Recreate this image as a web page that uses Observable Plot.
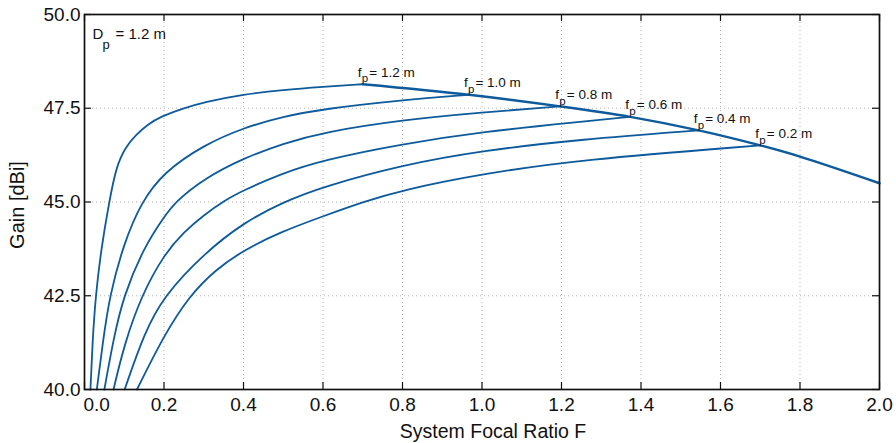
<!DOCTYPE html>
<html>
<head>
<meta charset="utf-8">
<script src="https://cdn.jsdelivr.net/npm/d3@7"></script>
<script src="https://cdn.jsdelivr.net/npm/@observablehq/plot@0.6"></script>
<style>
  html, body { margin: 0; padding: 0; background: #fff; }
  svg { display: block; }
</style>
</head>
<body>
<script>
// Primary focal lengths of the six curves (m)
const focalLengths = ["1.2", "1.0", "0.8", "0.6", "0.4", "0.2"];

// Rising branch of each curve: [system focal ratio F, gain dBi], ending at its optimum
const riseFp12 = [[0.015, 40.0], [0.020, 41.25], [0.028, 42.5], [0.042, 43.75], [0.062, 45.0],
  [0.080, 45.95], [0.103, 46.46], [0.130, 46.80], [0.160, 47.07], [0.19, 47.27], [0.25, 47.5],
  [0.30, 47.66], [0.40, 47.87], [0.50, 47.99], [0.60, 48.07], [0.70, 48.14]];
const riseFp10 = [[0.031, 40.0], [0.046, 41.25], [0.063, 42.5], [0.099, 43.9], [0.143, 45.0],
  [0.20, 45.8], [0.30, 46.52], [0.40, 46.98], [0.50, 47.28], [0.60, 47.48], [0.80, 47.72], [0.967, 47.86]];
const riseFp08 = [[0.050, 40.0], [0.072, 41.3], [0.098, 42.5], [0.15, 43.8], [0.20, 44.6],
  [0.228, 45.0], [0.30, 45.62], [0.40, 46.17], [0.50, 46.56], [0.60, 46.86], [0.80, 47.19],
  [1.00, 47.39], [1.197, 47.55]];
const riseFp06 = [[0.073, 40.0], [0.10, 41.2], [0.143, 42.5], [0.20, 43.6], [0.25, 44.2],
  [0.30, 44.65], [0.352, 45.04], [0.40, 45.31], [0.493, 45.75], [0.60, 46.12], [0.80, 46.55],
  [1.00, 46.87], [1.248, 47.14], [1.373, 47.27]];
const riseFp04 = [[0.101, 40.0], [0.15, 41.5], [0.20, 42.5], [0.30, 43.62], [0.40, 44.45],
  [0.50, 45.0], [0.60, 45.41], [0.80, 45.99], [1.00, 46.37], [1.248, 46.67], [1.545, 46.91]];
const riseFp02 = [[0.132, 40.0], [0.20, 41.45], [0.264, 42.5], [0.33, 43.2], [0.40, 43.71],
  [0.493, 44.2], [0.60, 44.62], [0.70, 45.0], [0.80, 45.32], [1.00, 45.75], [1.248, 46.13],
  [1.70, 46.51]];

// Common envelope through the optima, down to F = 2
const envelope = [[0.70, 48.14], [0.967, 47.86], [1.197, 47.55], [1.373, 47.27], [1.545, 46.91],
  [1.70, 46.51], [1.80, 46.21], [2.00, 45.5]];

// Axis ticks and grid
const xTicks = [0.0, 0.2, 0.4, 0.6, 0.8, 1.0, 1.2, 1.4, 1.6, 1.8, 2.0];
const yTicks = [40.0, 42.5, 45.0, 47.5, 50.0];
const xGrid = [0.2, 0.4, 0.6, 0.8, 1.0, 1.2, 1.4, 1.6, 1.8];
const yGrid = [42.5, 45.0, 47.5];

const xTitle = "System Focal Ratio F";
const yTitle = "Gain [dBi]";

const lineColor = "#0d5a9c";
const gridColor = "#b4b4b4";
const ink = "#111";

const rises = [riseFp12, riseFp10, riseFp08, riseFp06, riseFp04, riseFp02];
const riseRows = rises.flatMap((pts, i) => pts.map(([F, G]) => ({fp: focalLengths[i], F, G})));
const envRows = envelope.map(([F, G]) => ({F, G}));
const optima = rises.map((pts, i) => ({fp: focalLengths[i], F: pts[pts.length - 1][0], G: pts[pts.length - 1][1]}));

const fontFamily = "'Liberation Sans', Arial, Helvetica, sans-serif";

const chart = Plot.plot({
  width: 896,
  height: 443,
  marginLeft: 84,
  marginRight: 17,
  marginTop: 14,
  marginBottom: 54,
  x: {domain: [0, 2], axis: null},
  y: {domain: [40, 50], axis: null},
  style: {fontFamily, fontSize: "19px", color: ink, background: "#fff", overflow: "visible"},
  marks: [
    // dotted grid
    Plot.ruleX(xGrid, {x: d => d, stroke: gridColor, strokeWidth: 1, strokeDasharray: "1,3"}),
    Plot.ruleY(yGrid, {y: d => d, stroke: gridColor, strokeWidth: 1, strokeDasharray: "1,3"}),
    // curves
    Plot.line(riseRows, {x: "F", y: "G", z: "fp", stroke: lineColor, strokeWidth: 1.8, curve: "basis"}),
    Plot.line(envRows, {x: "F", y: "G", stroke: lineColor, strokeWidth: 2.4, curve: "catmull-rom"}),
    // inward ticks on all four sides
    Plot.tickX(xTicks, {x: d => d, stroke: ink, strokeWidth: 1.2, insetTop: 368}),
    Plot.tickX(xTicks, {x: d => d, stroke: ink, strokeWidth: 1.2, insetBottom: 368}),
    Plot.tickY(yTicks, {y: d => d, stroke: ink, strokeWidth: 1.2, insetRight: 788}),
    Plot.tickY(yTicks, {y: d => d, stroke: ink, strokeWidth: 1.2, insetLeft: 788}),
    Plot.frame({stroke: ink, strokeWidth: 1.7}),
    // tick labels
    Plot.text(xTicks.filter(d => d > 0), {x: d => d, frameAnchor: "bottom", lineAnchor: "top", textAnchor: "middle", dy: 8, text: d => d.toFixed(1)}),
    Plot.text(xTicks.filter(d => d === 0), {x: d => d, frameAnchor: "bottom", lineAnchor: "top", textAnchor: "start", dy: 8, dx: -1, text: d => d.toFixed(1)}),
    Plot.text(yTicks, {y: d => d, frameAnchor: "left", textAnchor: "end", dx: -4, text: d => d.toFixed(1)}),
    // axis titles
    Plot.text([xTitle], {frameAnchor: "bottom", lineAnchor: "top", textAnchor: "middle", dx: 11, dy: 35, fontSize: 19.5, text: d => d}),
    Plot.text([yTitle], {frameAnchor: "left", textAnchor: "middle", rotate: -90, dx: -67, dy: 3, fontSize: 20, text: d => d}),
    // dish diameter note
    Plot.text(["D"], {frameAnchor: "top-left", textAnchor: "start", lineAnchor: "top", dx: 8, dy: 14, fontSize: 15, text: d => d}),
    Plot.text(["p"], {frameAnchor: "top-left", textAnchor: "start", lineAnchor: "top", dx: 18, dy: 25, fontSize: 13, text: d => d}),
    Plot.text(["= 1.2 m"], {frameAnchor: "top-left", textAnchor: "start", lineAnchor: "top", dx: 31, dy: 14, fontSize: 15, text: d => d}),
    // optimum labels
    Plot.text(optima, {x: "F", y: "G", textAnchor: "start", lineAnchor: "top", dx: -5, dy: -17, fontSize: 13.5, text: () => "f"}),
    Plot.text(optima, {x: "F", y: "G", textAnchor: "start", lineAnchor: "top", dx: -1, dy: -10, fontSize: 11.5, text: () => "p"}),
    Plot.text(optima, {x: "F", y: "G", textAnchor: "start", lineAnchor: "top", dx: 6.5, dy: -17, fontSize: 13.5, text: d => `= ${d.fp} m`})
  ]
});

document.body.appendChild(chart);
</script>
</body>
</html>
